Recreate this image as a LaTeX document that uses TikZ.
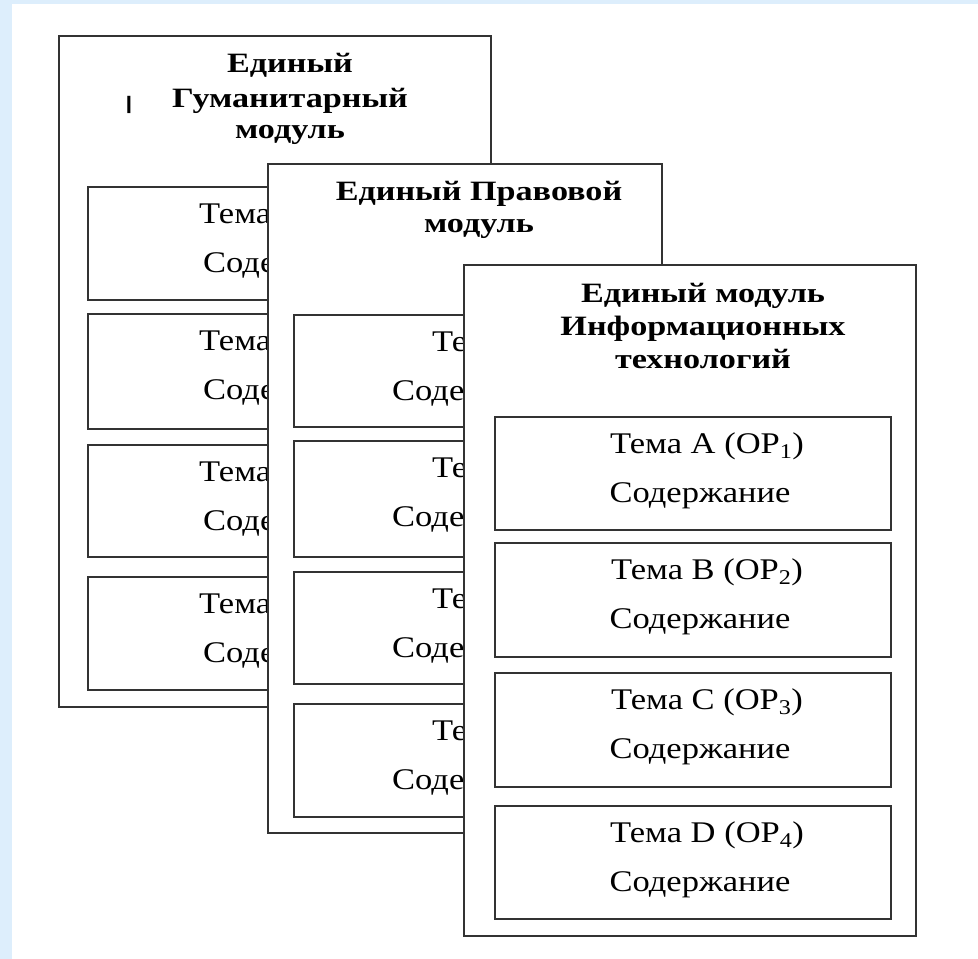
\documentclass[tikz,border=0pt]{standalone}
\usepackage{fontspec}
\setmainfont{Liberation Serif}[FakeStretch=1.15]
\newfontfamily\titlefont{Liberation Serif}[FakeStretch=1.22]
\definecolor{bgblue}{HTML}{DDEEFC}
\definecolor{edgegray}{HTML}{333333}
\begin{document}
\begin{tikzpicture}[x=1pt,y=-1pt,
  card/.style={draw=edgegray,line width=1.3pt,fill=white,anchor=north west,inner sep=0,outer sep=0},
  topic/.style={draw=edgegray,line width=1.3pt,fill=white,anchor=north west,inner sep=0,outer sep=0},
  ttl/.style={inner sep=0,anchor=base,text height=20pt,text depth=3pt,font=\titlefont\fontsize{28}{33}\selectfont\bfseries},
  txt/.style={inner sep=0,text height=19pt,text depth=6pt,font=\fontsize{30}{36}\selectfont}]
\useasboundingbox (0,0) rectangle (978,959);
\fill[bgblue] (0,0) rectangle (978,959);
\fill[white] (12,4) rectangle (978,959);

% ---------- Card 1 ----------
\node[card,minimum width=432pt,minimum height=671pt] (c1) at (59,36) {};
\node[ttl] (c1t1) at (290,72) {Единый};
\node[ttl] (c1t2) at (290,107) {Гуманитарный};
\node[ttl] (c1t3) at (290,138) {модуль};
\node[inner sep=0,anchor=base,font=\titlefont\fontsize{19}{20}\selectfont\bfseries] (c1bar) at (129,109) {\scalebox{1.9}[1]{|}};
\foreach \i/\t/\b/\L in {1/187/300/A,2/314/429/B,3/445/557/C,4/577/690/D}{
  \pgfmathsetmacro{\h}{\b-\t}
  \node[topic,minimum width=378pt,minimum height=\h pt] (c1b\i) at (88,\t) {};
  \node[txt,anchor=base west] (c1b\i a) at (199,\t+36) {Тема \L\ (ОР\textsubscript{\i})};
  \node[txt,anchor=base west] (c1b\i b) at (203,\t+85) {Содержание};
}

% ---------- Card 2 ----------
\node[card,minimum width=394pt,minimum height=669pt] (c2) at (268,164) {};
\node[ttl] (c2t1) at (479,200) {Единый Правовой};
\node[ttl] (c2t2) at (479,232) {модуль};
\foreach \i/\t/\b/\L in {1/315/427/A,2/441/557/B,3/572/684/C,4/704/817/D}{
  \pgfmathsetmacro{\h}{\b-\t}
  \node[topic,minimum width=342pt,minimum height=\h pt] (c2b\i) at (294,\t) {};
  \node[txt,anchor=base west] (c2b\i a) at (432,\t+36) {Тема \L};
  \node[txt,anchor=base west] (c2b\i b) at (392,\t+85) {Содержание};
}

% ---------- Card 3 ----------
\node[card,minimum width=452pt,minimum height=671pt] (c3) at (464,265) {};
\node[ttl] (c3t1) at (703,302) {Единый модуль};
\node[ttl] (c3t2) at (703,335) {Информационных};
\node[ttl] (c3t3) at (703,368) {технологий};
\foreach \i/\t/\b/\L in {1/417/530/A,2/543/657/B,3/673/787/C,4/806/919/D}{
  \pgfmathsetmacro{\h}{\b-\t}
  \node[topic,minimum width=396pt,minimum height=\h pt] (c3b\i) at (495,\t) {};
  \node[txt,anchor=base] (c3b\i a) at (707,\t+36) {Тема \L\ (ОР\textsubscript{\i})};
  \node[txt,anchor=base] (c3b\i b) at (700,\t+85) {Содержание};
}
\end{tikzpicture}
\end{document}
